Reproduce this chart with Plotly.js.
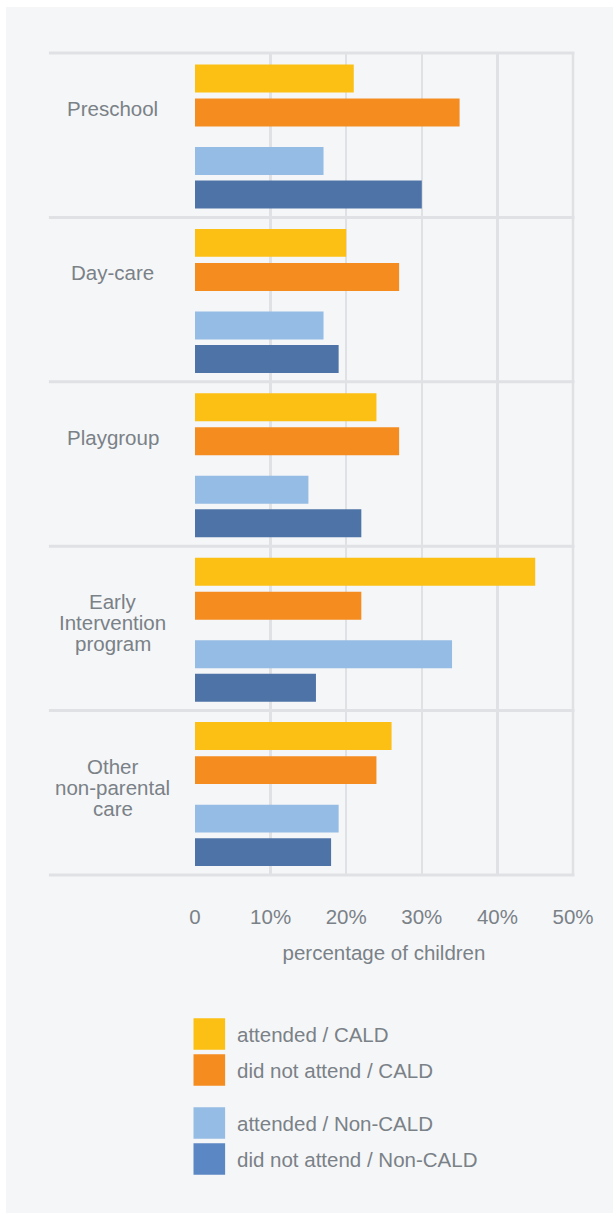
<!DOCTYPE html>
<html><head><meta charset="utf-8">
<script src="https://cdn.plot.ly/plotly-3.0.1.min.js"></script>
<style>html,body{margin:0;padding:0;background:#ffffff;} #chart{position:absolute;left:6px;top:7px;width:607px;height:1206px;}</style>
</head><body><div id="chart"></div>
<script>
const categories = ['Preschool', 'Day-care', 'Playgroup', 'Early<br>Intervention<br>program', 'Other<br>non-parental<br>care'];
const attendedCALD = [21, 20, 24, 45, 26];
const notAttendedCALD = [35, 27, 27, 22, 24];
const attendedNonCALD = [17, 17, 15, 34, 19];
const notAttendedNonCALD = [30, 19, 22, 16, 18];
const seriesNames = ['attended / CALD', 'did not attend / CALD', 'attended / Non-CALD', 'did not attend / Non-CALD'];
const barColors = ['#fcbf13', '#f58c20', '#94bce4', '#4e73a7'];
const legendColors = ['#fcbf13', '#f58c20', '#94bce4', '#5b87c5'];
const tickVals = [0, 10, 20, 30, 40, 50];
const tickText = ['0', '10%', '20%', '30%', '40%', '50%'];
const xAxisTitle = 'percentage of children';

// geometry (page pixels)
const OX = 6, OY = 7, W = 607, H = 1206;
const PL = 194.5, PR = 573.5, PT = 53, PB = 875;
const px2x = X => (X - PL) / (PR - PL);
const px2y = Y => (PB - Y) / (PB - PT);
const bandPx = (PB - PT) / categories.length;

const textColor = '#7a8187';
const gridColor = '#dfe1e4';
const fontFamily = '"Liberation Sans", Arial, sans-serif';
const fsz = 20.5;

const seriesValues = [attendedCALD, notAttendedCALD, attendedNonCALD, notAttendedNonCALD];
const offsets = [-0.430, -0.223, 0.072, 0.276];
const positions = categories.map((c, k) => k);

const traces = seriesValues.map((vals, i) => ({
  type: 'bar', orientation: 'h',
  x: vals, y: positions,
  name: seriesNames[i],
  marker: {color: barColors[i], line: {width: 0}},
  width: 0.17, offset: offsets[i],
  hoverinfo: 'skip', showlegend: false
}));

const shapes = [];
for (let k = 0; k <= categories.length; k++) {
  shapes.push({type: 'line', xref: 'paper', yref: 'paper',
    x0: px2x(48), x1: px2x(575), y0: 1 - k / categories.length, y1: 1 - k / categories.length,
    line: {color: gridColor, width: 3}, layer: 'below'});
}
// right edge gridline (50%)
shapes.push({type: 'line', xref: 'paper', yref: 'paper', x0: 1, x1: 1, y0: 0, y1: 1,
  line: {color: gridColor, width: 2.5}, layer: 'below'});

const annotations = [];
categories.forEach((c, k) => {
  c.split('<br>').forEach((line, j) => {
    annotations.push({
      xref: 'paper', yref: 'y', x: px2x(112), y: k - 0.5 + 55.5 / bandPx,
      xanchor: 'center', yanchor: 'middle', align: 'center', showarrow: false,
      yshift: -21 * j,
      text: line, font: {family: fontFamily, size: fsz, color: textColor}
    });
  });
});

// custom legend
const legendY0 = 1034, legendStep = 36, groupGap = 17, sq = 31.7;
seriesNames.forEach((name, i) => {
  const cy = legendY0 + i * legendStep + (i >= 2 ? groupGap : 0);
  shapes.push({type: 'rect', xref: 'paper', yref: 'paper',
    x0: px2x(193), x1: px2x(193 + sq), y0: px2y(cy - sq / 2), y1: px2y(cy + sq / 2),
    fillcolor: legendColors[i], line: {width: 0}});
  annotations.push({xref: 'paper', yref: 'paper', x: px2x(235), y: px2y(cy),
    xanchor: 'left', yanchor: 'middle', showarrow: false, text: name,
    font: {family: fontFamily, size: fsz, color: textColor}});
});

const layout = {
  width: W, height: H,
  margin: {l: PL - OX, r: OX + W - PR, t: PT - OY, b: OY + H - PB, pad: 0},
  paper_bgcolor: '#f5f6f8', plot_bgcolor: 'rgba(0,0,0,0)',
  barmode: 'overlay', showlegend: false,
  font: {family: fontFamily, size: fsz, color: textColor},
  xaxis: {range: [0, 50], tickvals: tickVals, ticktext: tickText, showgrid: true,
    gridcolor: gridColor, gridwidth: 2.5, zeroline: false, showline: false, ticks: '',
    ticklabelstandoff: 27, tickfont: {family: fontFamily, size: fsz, color: textColor},
    title: {text: xAxisTitle, standoff: 19, font: {family: fontFamily, size: fsz, color: textColor}},
    fixedrange: true},
  yaxis: {range: [categories.length - 0.5, -0.5], showgrid: false, zeroline: false,
    showticklabels: false, ticks: '', showline: false, fixedrange: true},
  shapes: shapes, annotations: annotations
};

Plotly.newPlot('chart', traces, layout, {displayModeBar: false, staticPlot: true});
</script></body></html>
